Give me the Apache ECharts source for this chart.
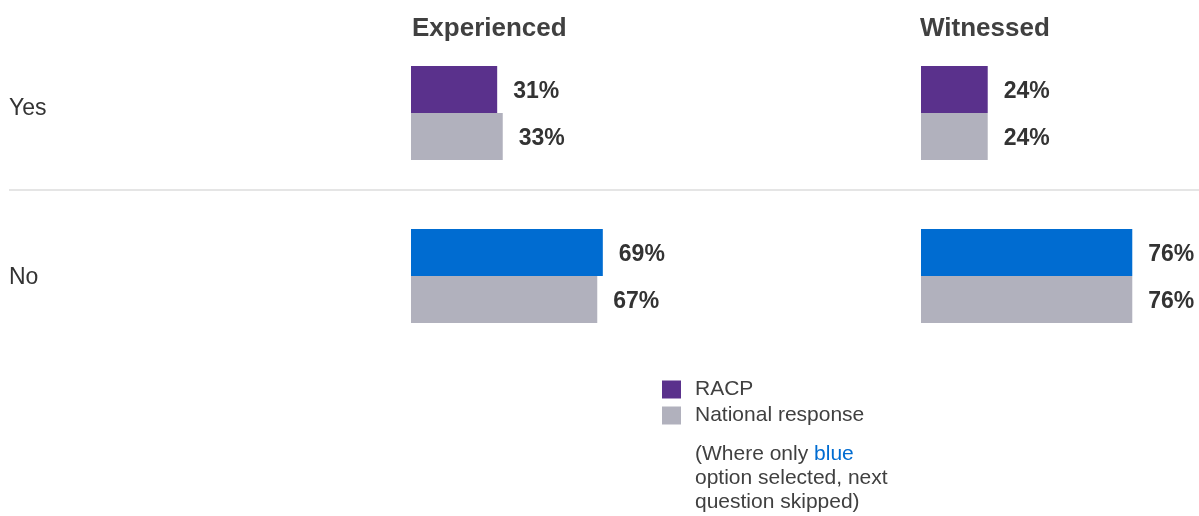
<!DOCTYPE html>
<html>
<head>
<meta charset="utf-8">
<script src="https://cdn.jsdelivr.net/npm/echarts@6/dist/echarts.min.js"></script>
<style>
  html, body { margin: 0; padding: 0; background: #fff; }
  #chart { width: 1199px; height: 516px; }
</style>
</head>
<body>
<div id="chart"></div>
<script>
// data
var categories = ['Yes', 'No']
var panelTitles = ['Experienced', 'Witnessed']
var experiencedRacp = [31, 69]
var experiencedNational = [33, 67]
var witnessedRacp = [24, 76]
var witnessedNational = [24, 76]

var FONT = 'Arial'
var PURPLE = '#5a318c'
var BLUE = '#006cd1'
var GREY = '#b1b1bd'
var TEXT = '#333333'

// first bar in the "No" row is drawn blue
function racpData (values) {
  return values.map(function (v, i) {
    return i === 1 ? { value: v, itemStyle: { color: BLUE } } : v
  })
}

var labelStyle = {
  show: true,
  position: 'right',
  distance: 16,
  offset: [0, 2],
  formatter: '{c}%',
  fontFamily: FONT,
  fontSize: 23,
  fontWeight: 'bold',
  color: TEXT
}

var titleStyle = { fontFamily: FONT, fontSize: 26, fontWeight: 'bold', color: '#404040' }

var myChart = echarts.init(document.getElementById('chart'))
var option = {
  backgroundColor: '#fff',
  animation: false,
  title: [
    { text: panelTitles[0], left: 412, top: 16, padding: 0, textStyle: titleStyle },
    { text: panelTitles[1], left: 920, top: 16, padding: 0, textStyle: titleStyle }
  ],
  grid: [
    { left: 411, width: 278, top: 31.5, height: 326, outerBoundsMode: 'none' },
    { left: 921, width: 278, top: 31.5, height: 326, outerBoundsMode: 'none' }
  ],
  xAxis: [
    { gridIndex: 0, type: 'value', min: 0, max: 100, show: false },
    { gridIndex: 1, type: 'value', min: 0, max: 100, show: false }
  ],
  yAxis: [
    {
      gridIndex: 0,
      type: 'category',
      inverse: true,
      data: categories.map(function (c, i) {
        // "Yes" sits a little above its band centre
        return i === 0
          ? { value: c, textStyle: { align: 'left', verticalAlign: 'bottom', lineHeight: 8 } }
          : { value: c, textStyle: { align: 'left', verticalAlign: 'top', lineHeight: 4 } }
      }),
      axisLine: { show: false },
      axisTick: { show: false },
      axisLabel: { show: true, align: 'left', margin: 402, fontFamily: FONT, fontSize: 23, color: TEXT }
    },
    {
      gridIndex: 1,
      type: 'category',
      inverse: true,
      data: categories,
      axisLine: { show: false },
      axisTick: { show: false },
      axisLabel: { show: false }
    }
  ],
  legend: {
    orient: 'vertical',
    left: 662,
    top: 379,
    padding: 0,
    itemWidth: 19,
    itemHeight: 18,
    itemGap: 5,
    icon: 'rect',
    textStyle: { fontFamily: FONT, fontSize: 21, color: '#404040', padding: [0, 0, 0, 9] },
    data: ['RACP', 'National response']
  },
  graphic: [
    {
      type: 'line',
      shape: { x1: 9, y1: 190, x2: 1199, y2: 190 },
      style: { stroke: '#dddddd', lineWidth: 1.5 }
    },
    {
      type: 'text',
      left: 695,
      top: 442,
      style: {
        text: '(Where only {b|blue}\noption selected, next\nquestion skipped)',
        font: '21px ' + FONT,
        fill: '#404040',
        lineHeight: 24,
        rich: {
          b: { fill: BLUE, font: '21px ' + FONT, lineHeight: 24 }
        }
      }
    }
  ],
  series: [
    {
      name: 'RACP', type: 'bar', xAxisIndex: 0, yAxisIndex: 0,
      barWidth: 47, barGap: '0%', itemStyle: { color: PURPLE },
      label: labelStyle, data: racpData(experiencedRacp)
    },
    {
      name: 'National response', type: 'bar', xAxisIndex: 0, yAxisIndex: 0,
      barWidth: 47, barGap: '0%', itemStyle: { color: GREY },
      label: labelStyle, data: experiencedNational
    },
    {
      name: 'RACP', type: 'bar', xAxisIndex: 1, yAxisIndex: 1,
      barWidth: 47, barGap: '0%', itemStyle: { color: PURPLE },
      label: labelStyle, data: racpData(witnessedRacp)
    },
    {
      name: 'National response', type: 'bar', xAxisIndex: 1, yAxisIndex: 1,
      barWidth: 47, barGap: '0%', itemStyle: { color: GREY },
      label: labelStyle, data: witnessedNational
    }
  ]
}
myChart.setOption(option, true)
</script>
</body>
</html>
